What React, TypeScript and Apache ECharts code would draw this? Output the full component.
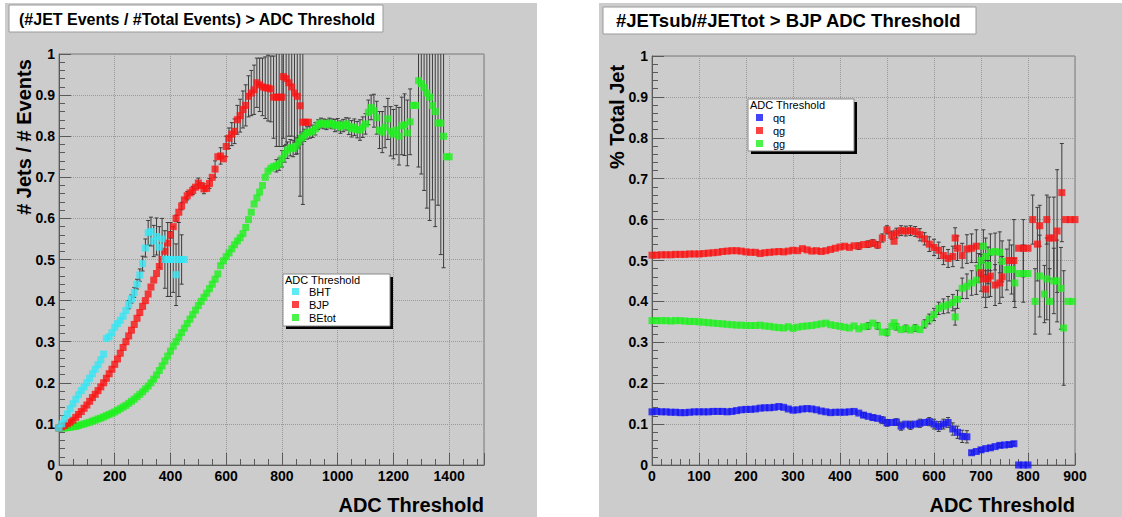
import React, { useEffect, useRef } from "react";
import * as echarts from "echarts";

// ---------- Left panel data: (#JET Events / #Total Events) > ADC Threshold ----------
const bht: [number, number][] = [
  [0, 0.09], [10, 0.1], [20, 0.112], [30, 0.124], [40, 0.137], [50, 0.149], [60, 0.16], [70, 0.171],
  [80, 0.181], [90, 0.19], [100, 0.2], [110, 0.211], [120, 0.222], [130, 0.233], [140, 0.244],
  [150, 0.256], [160, 0.27], [170, 0.308], [180, 0.312], [190, 0.322], [200, 0.335], [210, 0.344],
  [220, 0.352], [230, 0.362], [240, 0.376], [250, 0.39], [260, 0.404], [270, 0.42], [280, 0.44],
  [290, 0.462], [300, 0.49], [310, 0.528], [320, 0.565], [330, 0.568], [340, 0.545], [350, 0.556],
  [360, 0.53], [370, 0.55], [380, 0.5], [390, 0.5], [400, 0.5], [410, 0.5], [420, 0.463],
  [430, 0.5], [440, 0.5], [450, 0.5],
];

const bjp: [number, number][] = [
  [0, 0.09], [10, 0.093], [20, 0.096], [30, 0.1], [40, 0.104], [50, 0.109], [60, 0.116], [70, 0.123],
  [80, 0.13], [90, 0.138], [100, 0.146], [110, 0.155], [120, 0.164], [130, 0.172], [140, 0.181],
  [150, 0.19], [160, 0.2], [170, 0.211], [180, 0.222], [190, 0.233], [200, 0.245], [210, 0.258],
  [220, 0.272], [230, 0.286], [240, 0.3], [250, 0.314], [260, 0.328], [270, 0.342], [280, 0.357],
  [290, 0.371], [300, 0.386], [310, 0.4], [320, 0.416], [330, 0.433], [340, 0.45], [350, 0.466],
  [360, 0.483], [370, 0.5], [380, 0.52], [390, 0.54], [400, 0.56], [410, 0.58], [420, 0.6],
  [430, 0.615], [440, 0.63], [450, 0.645], [460, 0.655], [470, 0.662], [480, 0.668], [490, 0.676],
  [500, 0.686], [510, 0.68], [520, 0.672], [530, 0.673], [540, 0.685], [550, 0.7], [560, 0.72],
  [570, 0.75], [580, 0.752], [590, 0.745], [600, 0.775], [610, 0.795], [620, 0.805], [630, 0.812],
  [640, 0.84], [650, 0.85], [660, 0.865], [670, 0.875], [680, 0.897], [690, 0.905], [700, 0.913],
  [710, 0.93], [720, 0.925], [730, 0.92], [740, 0.918], [750, 0.917], [760, 0.915], [770, 0.895],
  [780, 0.895], [790, 0.895], [800, 0.895], [805, 0.945], [815, 0.94], [825, 0.93], [835, 0.92],
  [845, 0.905], [855, 0.897], [865, 0.874], [875, 0.834], [885, 0.834], [895, 0.834],
];

const betot: [number, number][] = [
  [0, 0.09], [10, 0.09], [20, 0.09], [30, 0.091], [40, 0.092], [50, 0.093], [60, 0.094], [70, 0.096],
  [80, 0.098], [90, 0.1], [100, 0.102], [110, 0.104], [120, 0.107], [130, 0.109], [140, 0.112],
  [150, 0.114], [160, 0.117], [170, 0.12], [180, 0.123], [190, 0.126], [200, 0.129], [210, 0.133],
  [220, 0.137], [230, 0.141], [240, 0.145], [250, 0.15], [260, 0.155], [270, 0.16], [280, 0.166],
  [290, 0.172], [300, 0.178], [310, 0.185], [320, 0.192], [330, 0.2], [340, 0.209], [350, 0.219],
  [360, 0.23], [370, 0.241], [380, 0.253], [390, 0.265], [400, 0.277], [410, 0.289], [420, 0.3],
  [430, 0.311], [440, 0.322], [450, 0.333], [460, 0.344], [470, 0.355], [480, 0.366], [490, 0.377],
  [500, 0.388], [510, 0.398], [520, 0.408], [530, 0.418], [540, 0.429], [550, 0.44], [560, 0.452],
  [570, 0.465], [580, 0.485], [590, 0.497], [600, 0.507], [610, 0.516], [620, 0.526], [630, 0.536],
  [640, 0.545], [650, 0.553], [660, 0.563], [670, 0.578], [680, 0.597], [690, 0.615], [700, 0.635],
  [710, 0.65], [720, 0.664], [730, 0.68], [740, 0.7], [750, 0.715], [760, 0.722], [770, 0.726],
  [780, 0.728], [790, 0.732], [800, 0.745], [810, 0.757], [820, 0.766], [830, 0.772], [840, 0.77],
  [850, 0.776], [860, 0.786], [870, 0.795], [880, 0.802], [890, 0.808], [900, 0.81], [910, 0.812],
  [920, 0.818], [930, 0.828], [940, 0.832], [950, 0.83], [960, 0.828], [970, 0.832], [980, 0.83],
  [990, 0.826], [1000, 0.828], [1010, 0.822], [1020, 0.826], [1030, 0.83], [1040, 0.824], [1050, 0.818],
  [1060, 0.822], [1070, 0.816], [1080, 0.815], [1090, 0.822], [1100, 0.83], [1110, 0.858], [1120, 0.87],
  [1130, 0.862], [1140, 0.845], [1150, 0.815], [1160, 0.81], [1170, 0.822], [1180, 0.842], [1190, 0.812],
  [1200, 0.805], [1210, 0.815], [1220, 0.8], [1230, 0.825], [1240, 0.828], [1250, 0.808], [1260, 0.835],
  [1270, 0.875], [1280, 0.875], [1290, 0.935], [1300, 0.928], [1310, 0.918], [1320, 0.905], [1330, 0.895],
  [1340, 0.875], [1350, 0.86], [1360, 0.832], [1370, 0.832], [1380, 0.8], [1390, 0.75], [1400, 0.75],
];

// [ADC, half error]
const bhtErr: [number, number][] = [
  [250, 0.01], [260, 0.01], [270, 0.012], [280, 0.012], [290, 0.015], [300, 0.018], [310, 0.022],
  [320, 0.03], [330, 0.035], [340, 0.038], [350, 0.045], [360, 0.05], [370, 0.05], [380, 0.07],
  [390, 0.09], [400, 0.09], [410, 0.08], [420, 0.075], [430, 0.09], [440, 0.06],
];
const bjpErr: [number, number][] = [
  [400, 0.008], [420, 0.008], [440, 0.009], [460, 0.01], [480, 0.01], [500, 0.012], [520, 0.012],
  [540, 0.012], [560, 0.02], [580, 0.02], [600, 0.025], [610, 0.025], [620, 0.028], [630, 0.03],
  [640, 0.035], [650, 0.04], [660, 0.045], [670, 0.05], [680, 0.05], [690, 0.055], [700, 0.06],
  [710, 0.06], [720, 0.065], [730, 0.07], [740, 0.075], [750, 0.08], [760, 0.08], [770, 0.1],
  [780, 0.12], [790, 0.12], [800, 0.12], [805, 0.15], [815, 0.16], [825, 0.13], [835, 0.12],
  [845, 0.12], [855, 0.14], [865, 0.22], [875, 0.2],
];
const betotErr: [number, number][] = [
  [780, 0.015], [790, 0.015], [800, 0.02], [810, 0.02], [820, 0.02], [830, 0.02], [840, 0.02],
  [850, 0.02], [860, 0.015], [870, 0.015], [880, 0.015], [890, 0.015], [900, 0.015], [910, 0.015],
  [920, 0.015], [930, 0.012], [940, 0.012], [950, 0.012], [960, 0.012], [970, 0.012], [980, 0.012],
  [990, 0.015], [1000, 0.015], [1010, 0.015], [1020, 0.015], [1030, 0.015], [1040, 0.02], [1050, 0.02],
  [1060, 0.02], [1070, 0.02], [1080, 0.025], [1090, 0.025], [1100, 0.025], [1110, 0.03], [1120, 0.03],
  [1130, 0.04], [1140, 0.04], [1150, 0.045], [1160, 0.05], [1170, 0.05], [1180, 0.05], [1190, 0.06],
  [1200, 0.06], [1210, 0.06], [1220, 0.07], [1230, 0.07], [1240, 0.075], [1250, 0.08], [1260, 0.08],
  [1290, 0.21], [1300, 0.22], [1310, 0.25], [1320, 0.28], [1330, 0.3], [1340, 0.23], [1350, 0.28],
  [1360, 0.2], [1370, 0.32], [1380, 0.32],
];

// ---------- Right panel data: #JETsub/#JETtot > BJP ADC Threshold ----------
const qq: [number, number | null][] = [
  [0, 0.13], [10, 0.131], [20, 0.13], [30, 0.13], [40, 0.129], [50, 0.129], [60, 0.128], [70, 0.128],
  [80, 0.129], [90, 0.13], [100, 0.13], [110, 0.13], [120, 0.13], [130, 0.131], [140, 0.131],
  [150, 0.131], [160, 0.13], [170, 0.131], [180, 0.133], [190, 0.135], [200, 0.136], [210, 0.136],
  [220, 0.137], [230, 0.139], [240, 0.14], [250, 0.14], [260, 0.141], [270, 0.143], [280, 0.141],
  [290, 0.137], [300, 0.134], [310, 0.135], [320, 0.137], [330, 0.138], [340, 0.137], [350, 0.135],
  [360, 0.132], [370, 0.13], [380, 0.128], [390, 0.129], [400, 0.129], [410, 0.129], [420, 0.13],
  [430, 0.131], [440, 0.127], [450, 0.122], [460, 0.119], [470, 0.116], [480, 0.114], [490, 0.11],
  [500, 0.103], [510, 0.104], [520, 0.105], [530, 0.095], [540, 0.1], [550, 0.097], [560, 0.1],
  [570, 0.102], [580, 0.104], [590, 0.106], [600, 0.1], [610, 0.094], [620, 0.1], [630, 0.104],
  [640, 0.088], [650, 0.08], [660, 0.07], [670, 0.069], [680, 0.03], [690, 0.033], [700, 0.037],
  [710, 0.04], [720, 0.042], [730, 0.045], [740, 0.048], [750, 0.049], [760, 0.05], [770, 0.052],
  [780, 0], [790, 0], [800, 0],
];

const qg: [number, number][] = [
  [0, 0.513], [10, 0.513], [20, 0.514], [30, 0.514], [40, 0.514], [50, 0.515], [60, 0.515], [70, 0.515],
  [80, 0.516], [90, 0.516], [100, 0.516], [110, 0.517], [120, 0.518], [130, 0.519], [140, 0.52],
  [150, 0.522], [160, 0.523], [170, 0.524], [180, 0.524], [190, 0.523], [200, 0.521], [210, 0.52],
  [220, 0.52], [230, 0.517], [240, 0.519], [250, 0.52], [260, 0.521], [270, 0.522], [280, 0.521],
  [290, 0.523], [300, 0.525], [310, 0.524], [320, 0.529], [330, 0.526], [340, 0.523], [350, 0.524],
  [360, 0.522], [370, 0.524], [380, 0.527], [390, 0.53], [400, 0.533], [410, 0.535], [420, 0.532],
  [430, 0.536], [440, 0.535], [450, 0.539], [460, 0.54], [470, 0.543], [480, 0.538], [490, 0.555],
  [500, 0.575], [510, 0.562], [515, 0.547], [520, 0.567], [530, 0.573], [540, 0.572], [550, 0.573],
  [560, 0.571], [570, 0.563], [580, 0.553], [590, 0.54], [600, 0.532], [610, 0.525], [620, 0.512],
  [630, 0.505], [640, 0.51], [645, 0.555], [650, 0.53], [660, 0.512], [670, 0.528], [680, 0.53],
  [690, 0.535], [700, 0.47], [705, 0.455], [710, 0.43], [715, 0.455], [720, 0.462], [730, 0.44],
  [740, 0.445], [745, 0.46], [760, 0.5], [770, 0.5], [780, 0.53], [790, 0.53], [800, 0.53],
  [810, 0.6], [820, 0.54], [825, 0.585], [840, 0.6], [845, 0.555], [855, 0.555], [862, 0.572],
  [872, 0.666], [880, 0.6], [890, 0.6], [900, 0.6],
];

const gg: [number, number][] = [
  [0, 0.353], [10, 0.353], [20, 0.353], [30, 0.353], [40, 0.352], [50, 0.353], [60, 0.353], [70, 0.352],
  [80, 0.351], [90, 0.351], [100, 0.35], [110, 0.349], [120, 0.348], [130, 0.347], [140, 0.346],
  [150, 0.345], [160, 0.344], [170, 0.343], [180, 0.342], [190, 0.342], [200, 0.341], [210, 0.341],
  [220, 0.341], [230, 0.342], [240, 0.34], [250, 0.339], [260, 0.337], [270, 0.336], [280, 0.335],
  [290, 0.338], [300, 0.334], [310, 0.337], [320, 0.339], [330, 0.34], [340, 0.341], [350, 0.343],
  [360, 0.345], [370, 0.347], [380, 0.343], [390, 0.341], [400, 0.339], [410, 0.337], [420, 0.335],
  [430, 0.34], [440, 0.333], [450, 0.338], [460, 0.34], [470, 0.347], [480, 0.34], [490, 0.325],
  [500, 0.324], [510, 0.339], [515, 0.348], [520, 0.338], [530, 0.331], [540, 0.334], [550, 0.33],
  [560, 0.335], [570, 0.331], [580, 0.345], [590, 0.357], [600, 0.368], [610, 0.383], [620, 0.388],
  [630, 0.392], [640, 0.397], [645, 0.362], [650, 0.405], [660, 0.432], [670, 0.437], [680, 0.445],
  [690, 0.452], [695, 0.482], [700, 0.5], [705, 0.535], [710, 0.51], [715, 0.488], [720, 0.52],
  [730, 0.522], [740, 0.52], [745, 0.498], [755, 0.478], [765, 0.478], [772, 0.445], [780, 0.468],
  [790, 0.468], [800, 0.468], [815, 0.4], [825, 0.462], [835, 0.418], [840, 0.455], [846, 0.4],
  [855, 0.45], [862, 0.45], [870, 0.432], [876, 0.335], [885, 0.4], [895, 0.4],
];

const qqErr: [number, number][] = [
  [450, 0.006], [470, 0.006], [490, 0.008], [500, 0.008], [520, 0.008], [530, 0.01], [550, 0.01],
  [570, 0.01], [590, 0.01], [600, 0.012], [610, 0.012], [620, 0.012], [630, 0.012], [640, 0.015],
  [650, 0.015], [660, 0.015], [670, 0.015], [680, 0.005], [700, 0.005], [720, 0.005], [740, 0.005],
  [760, 0.005], [770, 0.005],
];
const qgErr: [number, number][] = [
  [440, 0.008], [460, 0.008], [470, 0.008], [480, 0.008], [490, 0.01], [500, 0.01], [510, 0.01],
  [520, 0.012], [530, 0.012], [540, 0.012], [550, 0.012], [560, 0.012], [570, 0.015], [580, 0.015],
  [590, 0.018], [600, 0.02], [610, 0.02], [620, 0.022], [630, 0.022], [640, 0.025], [645, 0.025],
  [650, 0.03], [660, 0.03], [670, 0.035], [680, 0.035], [690, 0.04], [700, 0.045], [705, 0.045],
  [710, 0.045], [715, 0.045], [720, 0.05], [730, 0.05], [740, 0.05], [745, 0.05], [760, 0.05],
  [770, 0.1], [790, 0.07], [810, 0.06], [820, 0.09], [825, 0.05], [840, 0.06], [845, 0.1],
  [855, 0.1], [862, 0.15], [872, 0.12],
];
const ggErr: [number, number][] = [
  [460, 0.008], [480, 0.008], [500, 0.008], [520, 0.008], [540, 0.008], [560, 0.008], [580, 0.01],
  [590, 0.012], [600, 0.015], [610, 0.015], [620, 0.018], [630, 0.02], [640, 0.02], [645, 0.02],
  [650, 0.022], [660, 0.025], [670, 0.03], [680, 0.03], [690, 0.035], [695, 0.035], [700, 0.04],
  [705, 0.04], [710, 0.045], [715, 0.045], [720, 0.045], [730, 0.045], [740, 0.05], [745, 0.05],
  [755, 0.05], [765, 0.06], [772, 0.06], [790, 0.07], [815, 0.08], [825, 0.1], [835, 0.07],
  [840, 0.1], [846, 0.08], [855, 0.08], [862, 0.1], [870, 0.1], [876, 0.14],
];

const leftNames = ["BHT", "BJP", "BEtot"];
const rightNames = ["qq", "qg", "gg"];

const FONT = "'Liberation Sans', Arial, Helvetica, sans-serif";
const CYAN = "#36e6f4";
const RED = "#fa1414";
const GREEN = "#1ef01e";
const BLUE = "#1414f5";
const PANEL = "#cccccc";

function withErr(pts: [number, number | null][], errs: [number, number][]) {
  const m = new Map<number, number | null>(pts.map((p) => [p[0], p[1]]));
  return errs
    .filter(([x]) => m.get(x) != null)
    .map(([x, e]) => [x, m.get(x) as number, e]);
}

function renderErr(params: any, api: any) {
  const x = api.value(0);
  const y = api.value(1);
  const e = api.value(2);
  const hiV = Math.min(y + e, 1);
  const loV = Math.max(y - e, 0);
  const pHi = api.coord([x, hiV]);
  const pLo = api.coord([x, loV]);
  const style = { stroke: "#3c3c3c", lineWidth: 1 };
  const children: any[] = [
    { type: "line", shape: { x1: pHi[0], y1: pHi[1], x2: pLo[0], y2: pLo[1] }, style },
  ];
  if (y + e <= 1) {
    children.push({ type: "line", shape: { x1: pHi[0] - 2, y1: pHi[1], x2: pHi[0] + 2, y2: pHi[1] }, style });
  }
  children.push({ type: "line", shape: { x1: pLo[0] - 2, y1: pLo[1], x2: pLo[0] + 2, y2: pLo[1] }, style });
  return { type: "group", children };
}

function makeXAxis(gridIndex: number, max: number, interval: number, minorSplit: number) {
  return {
    type: "value",
    gridIndex,
    min: 0,
    max,
    interval,
    axisLine: { show: true, lineStyle: { color: "#5a5a5a", width: 1 } },
    axisTick: { show: true, inside: true, length: 12, lineStyle: { color: "#5a5a5a" } },
    minorTick: { show: true, splitNumber: minorSplit, length: 6, lineStyle: { color: "#5a5a5a" } },
    splitLine: { show: true, lineStyle: { color: "#9a9a9a", type: "dotted", width: 1 } },
    axisLabel: {
      color: "#000",
      fontWeight: "bold",
      fontSize: 14,
      fontFamily: FONT,
      margin: 4,
      showMaxLabel: max % interval === 0,
      formatter: (v: number) => String(Math.round(v)),
    },
  };
}

function makeYAxis(gridIndex: number) {
  return {
    type: "value",
    gridIndex,
    min: 0,
    max: 1,
    interval: 0.1,
    axisLine: { show: true, lineStyle: { color: "#5a5a5a", width: 1 } },
    axisTick: { show: true, inside: true, length: 12, lineStyle: { color: "#5a5a5a" } },
    minorTick: { show: true, splitNumber: 5, length: 6, lineStyle: { color: "#5a5a5a" } },
    splitLine: { show: true, lineStyle: { color: "#9a9a9a", type: "dotted", width: 1 } },
    axisLabel: {
      color: "#000",
      fontWeight: "bold",
      fontSize: 14,
      fontFamily: FONT,
      margin: 4,
      formatter: (v: number) => String(Math.round(v * 10) / 10),
    },
  };
}

function scatter(name: string, data: any[], color: string, axis: number) {
  return {
    type: "scatter",
    name,
    data,
    xAxisIndex: axis,
    yAxisIndex: axis,
    symbol: "rect",
    symbolSize: 7,
    itemStyle: { color },
    z: 3,
    silent: true,
  };
}

function errSeries(name: string, data: any[], axis: number) {
  return {
    type: "custom",
    name,
    data,
    xAxisIndex: axis,
    yAxisIndex: axis,
    renderItem: renderErr,
    z: 2,
    silent: true,
  };
}

function legendCfg(data: string[], left: number, top: number) {
  return {
    data,
    orient: "vertical",
    left,
    top,
    padding: 0,
    icon: "rect",
    itemWidth: 7,
    itemHeight: 7,
    itemGap: 0,
    selectedMode: false,
    textStyle: { fontSize: 11, fontFamily: FONT, color: "#000", lineHeight: 13, padding: [0, 0, 0, 5] },
    z: 10,
  };
}

function legendBox(x: number, y: number, w: number, h: number) {
  return [
    { type: "rect", shape: { x: x + 3, y: y + 3, width: w, height: h }, style: { fill: "#000" }, z: 8 },
    { type: "rect", shape: { x, y, width: w, height: h }, style: { fill: "#fff", stroke: "#8a8a8a", lineWidth: 1 }, z: 9 },
    {
      type: "text",
      x: x + 2,
      y: y + 6,
      style: { text: "ADC Threshold", font: `11px ${FONT}`, fill: "#000", textVerticalAlign: "middle" },
      z: 10,
    },
  ];
}

export default function App() {
  const ref = useRef<HTMLDivElement>(null);

  useEffect(() => {
    if (!ref.current) return;
    const chart = echarts.init(ref.current, undefined, { renderer: "svg" });

    const option: any = {
      animation: false,
      backgroundColor: "#ffffff",
      grid: [
        { left: 59, top: 54, width: 425, height: 411, show: true, borderColor: "#7a7a7a", borderWidth: 1, backgroundColor: "transparent" },
        { left: 652, top: 56, width: 423, height: 409, show: true, borderColor: "#7a7a7a", borderWidth: 1, backgroundColor: "transparent" },
      ],
      xAxis: [makeXAxis(0, 1525, 200, 4), makeXAxis(1, 900, 100, 5)],
      yAxis: [makeYAxis(0), makeYAxis(1)],
      legend: [legendCfg(leftNames, 292, 285), legendCfg(rightNames, 756, 111)],
      graphic: [
        { type: "rect", shape: { x: 5, y: 3, width: 532, height: 514 }, style: { fill: PANEL }, z: -10 },
        { type: "rect", shape: { x: 599, y: 3, width: 523, height: 514 }, style: { fill: PANEL }, z: -10 },
        { type: "rect", shape: { x: 9, y: 5, width: 374, height: 27 }, style: { fill: "#fff", stroke: "#9a9a9a", lineWidth: 1 }, z: 5 },
        {
          type: "text", x: 19, y: 19,
          style: { text: "(#JET Events / #Total Events) > ADC Threshold", font: `bold 16px ${FONT}`, fill: "#000", textVerticalAlign: "middle" },
          z: 6,
        },
        { type: "rect", shape: { x: 603, y: 7, width: 373, height: 27 }, style: { fill: "#fff", stroke: "#9a9a9a", lineWidth: 1 }, z: 5 },
        {
          type: "text", x: 616, y: 20,
          style: { text: "#JETsub/#JETtot > BJP ADC Threshold", font: `bold 18.5px ${FONT}`, fill: "#000", textVerticalAlign: "middle" },
          z: 6,
        },
        {
          type: "text", x: 24, y: 137, rotation: Math.PI / 2,
          style: { text: "# Jets / # Events", font: `bold 20px ${FONT}`, fill: "#000", textAlign: "center", textVerticalAlign: "middle" },
          z: 6,
        },
        {
          type: "text", x: 617, y: 117, rotation: Math.PI / 2,
          style: { text: "% Total Jet", font: `bold 20px ${FONT}`, fill: "#000", textAlign: "center", textVerticalAlign: "middle" },
          z: 6,
        },
        {
          type: "text", x: 484, y: 505,
          style: { text: "ADC Threshold", font: `bold 20px ${FONT}`, fill: "#000", textAlign: "right", textVerticalAlign: "middle" },
          z: 6,
        },
        {
          type: "text", x: 1075, y: 505,
          style: { text: "ADC Threshold", font: `bold 20px ${FONT}`, fill: "#000", textAlign: "right", textVerticalAlign: "middle" },
          z: 6,
        },
        ...legendBox(283, 274, 107, 52),
        ...legendBox(748, 99, 106, 52),
      ],
      series: [
        errSeries("BHT err", withErr(bht, bhtErr), 0),
        errSeries("BJP err", withErr(bjp, bjpErr), 0),
        errSeries("BEtot err", withErr(betot, betotErr), 0),
        scatter("BEtot", betot, GREEN, 0),
        scatter("BJP", bjp, RED, 0),
        scatter("BHT", bht, CYAN, 0),
        errSeries("qq err", withErr(qq, qqErr), 1),
        errSeries("qg err", withErr(qg, qgErr), 1),
        errSeries("gg err", withErr(gg, ggErr), 1),
        scatter("qq", qq, BLUE, 1),
        scatter("gg", gg, GREEN, 1),
        scatter("qg", qg, RED, 1),
      ],
    };

    chart.setOption(option);
    return () => chart.dispose();
  }, []);

  return (
    <div
      ref={ref}
      style={{ position: "fixed", left: 0, top: 0, width: 1122, height: 517 }}
    />
  );
}
